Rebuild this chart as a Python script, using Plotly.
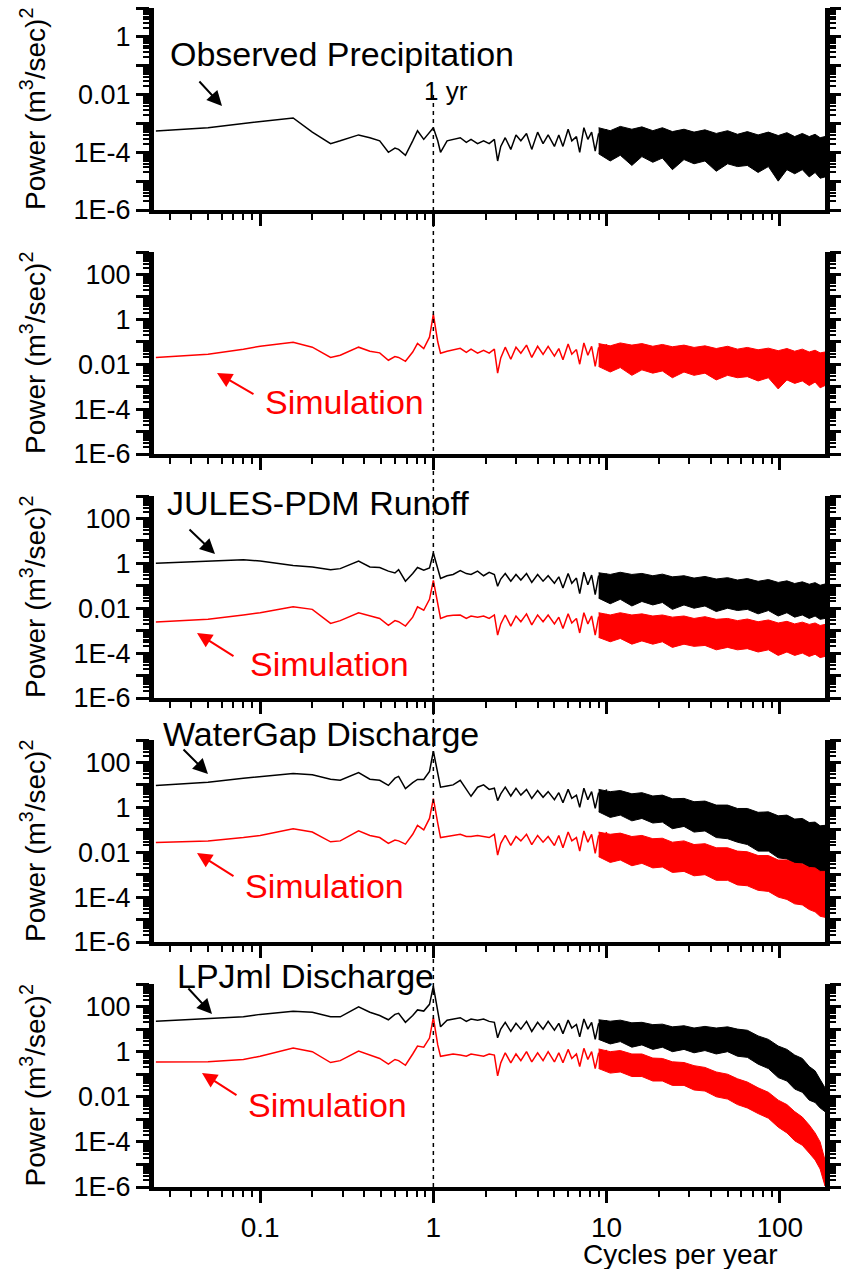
import plotly.graph_objects as go

# ---------------- data ----------------
# smooth / low-frequency part of every spectrum (drawn as a line)
FREQ_LINE = [0.025, 0.05, 0.08, 0.1, 0.155, 0.2, 0.255, 0.29, 0.37, 0.43,
             0.49, 0.55, 0.6, 0.63, 0.69, 0.76, 0.81, 0.88, 0.95, 1.0,
             1.06, 1.1, 1.2, 1.3, 1.43, 1.55, 1.65, 1.8, 1.95, 2.1,
             2.25, 2.35, 2.45, 2.6, 2.8, 3.0, 3.2, 3.45, 3.7, 4.0,
             4.3, 4.6, 5.0, 5.3, 5.6, 6.0, 6.3, 6.7, 7.0, 7.4,
             7.8, 8.2, 8.6, 9.0, 9.5, 10.0]
# dense high-frequency part (drawn as a filled band between upper / lower envelopes)
FREQ_BAND = [9, 10.5, 12, 14, 16, 18.5, 21, 24, 28, 32,
             37, 43, 50, 57, 65, 75, 86, 98, 110, 122,
             135, 148, 160, 171, 182.5]

obs_precip = [5.5e-4, 7.1e-4, 1.0e-3, 1.17e-3, 1.55e-3, 5.0e-4, 2.0e-4, 2.5e-4, 4.0e-4, 3.2e-4,
              2.5e-4, 1.0e-4, 1.4e-4, 1.26e-4, 7.9e-5, 2.5e-4, 5.6e-4, 2.8e-4, 5.0e-4, 7.1e-4,
              2.5e-4, 1.0e-4, 2.5e-4, 2.8e-4, 3.2e-4, 2.2e-4, 2.8e-4, 2.0e-4, 2.5e-4, 2.0e-4,
              2.8e-4, 5.0e-5, 1.6e-4, 3.2e-4, 1.26e-4, 4.0e-4, 2.5e-4, 4.5e-4, 1.26e-4, 5.0e-4,
              2.0e-4, 4.0e-4, 1.6e-4, 4.0e-4, 1.6e-4, 6.3e-4, 2.5e-4, 3.5e-4, 1.0e-4, 7.1e-4,
              2.8e-4, 5.0e-4, 1.1e-4, 4.5e-4, 2.0e-4, 6.3e-4]
obs_precip_hi = [7.1e-4, 5.6e-4, 7.9e-4, 6.3e-4, 7.6e-4, 5.6e-4, 7.1e-4, 5.2e-4, 6.3e-4, 5.0e-4,
                 6.0e-4, 4.5e-4, 5.6e-4, 4.2e-4, 5.2e-4, 4.0e-4, 5.0e-4, 3.8e-4, 4.8e-4, 3.5e-4,
                 4.5e-4, 3.5e-4, 4.2e-4, 3.2e-4, 3.5e-4]
obs_precip_lo = [8.9e-5, 5.0e-5, 7.9e-5, 3.5e-5, 7.1e-5, 4.5e-5, 6.3e-5, 2.5e-5, 5.6e-5, 4.0e-5,
                 5.0e-5, 2.2e-5, 4.0e-5, 3.2e-5, 3.5e-5, 2.0e-5, 3.2e-5, 1.0e-5, 2.5e-5, 1.8e-5,
                 2.5e-5, 1.4e-5, 2.0e-5, 1.26e-5, 1.4e-5]

sim_precip = [2.0e-2, 2.75e-2, 4.7e-2, 6.3e-2, 9.5e-2, 5.75e-2, 2.0e-2, 2.5e-2, 5.75e-2, 3.8e-2,
              3.2e-2, 1.5e-2, 2.2e-2, 2.0e-2, 1.35e-2, 3.5e-2, 8.5e-2, 5.0e-2, 0.16, 1.66,
              0.1, 3.1e-2, 3.8e-2, 4.2e-2, 5.1e-2, 3.4e-2, 4.7e-2, 3.1e-2, 4.2e-2, 3.1e-2,
              4.7e-2, 4.0e-3, 1.9e-2, 5.75e-2, 1.66e-2, 5.75e-2, 3.1e-2, 7.1e-2, 2.0e-2, 6.3e-2,
              2.75e-2, 6.3e-2, 2.3e-2, 5.0e-2, 1.6e-2, 7.9e-2, 2.8e-2, 4.5e-2, 1.0e-2, 8.9e-2,
              2.5e-2, 6.3e-2, 8.0e-3, 5.6e-2, 1.8e-2, 7.9e-2]
sim_precip_hi = [8.3e-2, 6.6e-2, 8.9e-2, 7.1e-2, 8.3e-2, 6.3e-2, 7.6e-2, 6.0e-2, 7.1e-2, 5.6e-2,
                 6.6e-2, 5.0e-2, 6.3e-2, 4.7e-2, 5.6e-2, 4.4e-2, 5.2e-2, 4.0e-2, 5.0e-2, 3.8e-2,
                 4.7e-2, 3.5e-2, 4.2e-2, 3.2e-2, 3.5e-2]
sim_precip_lo = [7.9e-3, 4.5e-3, 7.1e-3, 3.2e-3, 5.6e-3, 4.0e-3, 5.0e-3, 2.5e-3, 4.5e-3, 3.2e-3,
                 4.0e-3, 2.0e-3, 3.2e-3, 2.5e-3, 2.8e-3, 1.8e-3, 2.5e-3, 7.9e-4, 2.0e-3, 1.4e-3,
                 1.8e-3, 1.12e-3, 1.6e-3, 8.9e-4, 1.12e-3]

jules_runoff = [1.02, 1.23, 1.45, 1.26, 0.81, 0.68, 0.52, 0.58, 1.26, 0.69,
                0.65, 0.45, 0.37, 0.52, 0.16, 0.35, 0.65, 0.49, 0.63, 2.9,
                0.63, 0.21, 0.28, 0.32, 0.47, 0.35, 0.32, 0.45, 0.28, 0.4,
                0.32, 9.5e-2, 0.2, 0.35, 0.16, 0.32, 0.18, 0.35, 0.14, 0.32,
                0.16, 0.28, 0.13, 0.25, 7.9e-2, 0.355, 0.13, 0.22, 4.5e-2, 0.4,
                0.11, 0.3, 4.0e-2, 0.28, 8.9e-2, 0.355]
jules_runoff_hi = [0.38, 0.32, 0.4, 0.32, 0.355, 0.28, 0.33, 0.25, 0.28, 0.22,
                   0.26, 0.2, 0.23, 0.18, 0.21, 0.158, 0.19, 0.141, 0.166, 0.126,
                   0.15, 0.117, 0.138, 0.105, 0.12]
jules_runoff_lo = [2.8e-2, 1.58e-2, 2.5e-2, 1.26e-2, 2.0e-2, 1.4e-2, 1.8e-2, 8.9e-3, 1.4e-2, 1.0e-2,
                   1.26e-2, 7.1e-3, 1.0e-2, 7.9e-3, 8.9e-3, 5.6e-3, 7.9e-3, 4.5e-3, 6.3e-3, 4.0e-3,
                   5.0e-3, 3.5e-3, 4.5e-3, 3.2e-3, 3.5e-3]

jules_sim = [2.45e-3, 3.2e-3, 5.0e-3, 6.3e-3, 1.15e-2, 8.9e-3, 2.1e-3, 2.8e-3, 6.2e-3, 4.5e-3,
             3.5e-3, 1.74e-3, 2.8e-3, 2.5e-3, 1.6e-3, 4.0e-3, 1.15e-2, 8.1e-3, 2.5e-2, 0.174,
             1.6e-2, 3.5e-3, 4.5e-3, 4.9e-3, 5.0e-3, 3.5e-3, 4.5e-3, 4.0e-3, 4.5e-3, 3.5e-3,
             5.0e-3, 6.3e-4, 2.0e-3, 5.0e-3, 1.6e-3, 4.5e-3, 2.5e-3, 5.6e-3, 1.8e-3, 5.0e-3,
             2.5e-3, 5.0e-3, 2.0e-3, 4.0e-3, 1.26e-3, 5.6e-3, 2.2e-3, 3.5e-3, 7.9e-4, 6.3e-3,
             2.0e-3, 4.5e-3, 6.3e-4, 4.2e-3, 1.4e-3, 5.6e-3]
jules_sim_hi = [6.3e-3, 5.0e-3, 6.3e-3, 5.0e-3, 5.6e-3, 4.5e-3, 5.0e-3, 4.0e-3, 4.5e-3, 3.5e-3,
                4.2e-3, 3.2e-3, 3.5e-3, 2.8e-3, 3.3e-3, 2.5e-3, 3.0e-3, 2.2e-3, 2.6e-3, 2.0e-3,
                2.4e-3, 1.9e-3, 2.2e-3, 1.7e-3, 1.9e-3]
jules_sim_lo = [5.0e-4, 3.2e-4, 4.5e-4, 2.5e-4, 3.5e-4, 2.5e-4, 3.2e-4, 1.8e-4, 2.5e-4, 2.0e-4,
                2.2e-4, 1.4e-4, 1.8e-4, 1.4e-4, 1.58e-4, 1.12e-4, 1.4e-4, 7.9e-5, 1.12e-4, 7.9e-5,
                1.0e-4, 7.1e-5, 8.9e-5, 6.3e-5, 7.1e-5]

watergap_q = [9.5, 13.2, 20, 24, 32, 28, 18, 16, 35, 18,
              16, 9.5, 20, 24, 6.8, 12.6, 17.4, 17.4, 40, 316,
              32, 7.9, 8.9, 10, 16, 6.3, 3.1, 7.9, 10, 6.3,
              7.1, 2.0, 4.0, 7.9, 3.2, 7.1, 3.5, 6.3, 2.5, 5.6,
              2.8, 5.0, 2.2, 4.5, 1.6, 6.3, 2.5, 3.5, 1.0, 7.1,
              2.2, 5.0, 0.9, 4.5, 1.6, 6.3]
watergap_q_hi = [6.3, 5.0, 5.6, 4.0, 4.5, 3.2, 3.5, 2.4, 2.5, 1.78,
                 1.9, 1.26, 1.26, 0.89, 0.89, 0.6, 0.63, 0.42, 0.45, 0.3,
                 0.32, 0.21, 0.22, 0.15, 0.158]
watergap_q_lo = [0.63, 0.355, 0.45, 0.25, 0.32, 0.2, 0.22, 0.112, 0.141, 7.9e-2,
                 8.9e-2, 4.5e-2, 4.0e-2, 2.8e-2, 2.2e-2, 1.12e-2, 1.12e-2, 5.6e-3, 5.0e-3, 3.2e-3,
                 3.2e-3, 2.0e-3, 2.0e-3, 1.26e-3, 1.4e-3]

watergap_sim = [2.7e-2, 3.2e-2, 4.5e-2, 5.6e-2, 0.112, 7.9e-2, 2.9e-2, 3.2e-2, 8.9e-2, 5.6e-2,
                4.5e-2, 2.45e-2, 3.5e-2, 3.2e-2, 2.3e-2, 6.3e-2, 0.158, 0.1, 0.32, 2.45,
                0.2, 4.5e-2, 5.0e-2, 5.6e-2, 6.3e-2, 5.0e-2, 5.0e-2, 5.6e-2, 5.0e-2, 4.5e-2,
                6.3e-2, 7.4e-3, 2.5e-2, 5.6e-2, 2.0e-2, 5.0e-2, 3.2e-2, 6.3e-2, 2.2e-2, 5.6e-2,
                2.8e-2, 5.0e-2, 2.0e-2, 5.6e-2, 1.6e-2, 7.9e-2, 3.2e-2, 4.5e-2, 1.12e-2, 8.9e-2,
                2.8e-2, 6.3e-2, 8.9e-3, 5.6e-2, 2.0e-2, 7.9e-2]
watergap_sim_hi = [7.9e-2, 6.3e-2, 7.1e-2, 5.0e-2, 5.6e-2, 4.0e-2, 4.2e-2, 2.8e-2, 3.2e-2, 2.2e-2,
                   2.4e-2, 1.58e-2, 1.58e-2, 1.12e-2, 1.05e-2, 7.1e-3, 7.1e-3, 4.5e-3, 4.5e-3, 3.2e-3,
                   3.0e-3, 2.1e-3, 2.0e-3, 1.4e-3, 1.4e-3]
watergap_sim_lo = [6.3e-3, 3.5e-3, 4.5e-3, 2.5e-3, 3.2e-3, 2.0e-3, 2.2e-3, 1.26e-3, 1.4e-3, 8.9e-4,
                   1.0e-3, 5.6e-4, 5.6e-4, 3.5e-4, 3.2e-4, 2.0e-4, 1.8e-4, 1.0e-4, 7.9e-5, 5.0e-5,
                   4.5e-5, 2.8e-5, 2.2e-5, 1.4e-5, 1.26e-5]

lpjml_q = [22.4, 28, 35, 45, 62, 56, 35, 35, 98, 56,
           40, 26, 45, 50, 20, 40, 71, 63, 126, 794,
           79, 12.6, 25, 28, 32, 22, 28, 25, 28, 22,
           20, 4.1, 10, 20, 7.9, 18, 10, 22, 7.9, 20,
           10, 22, 8.9, 18, 6.3, 25, 11, 16, 4.5, 28,
           10, 20, 3.5, 18, 7.1, 25]
lpjml_q_hi = [26, 22.4, 25, 19, 20, 15.8, 16.6, 12.6, 14.1, 11.2,
              13.2, 11.2, 12.6, 10, 8.9, 5.0, 3.5, 1.78, 1.26, 0.71,
              0.5, 0.22, 0.141, 6.3e-2, 2.5e-2]
lpjml_q_lo = [3.5, 2.2, 2.8, 1.58, 2.0, 1.26, 1.58, 1.0, 1.26, 0.89,
              1.12, 0.79, 1.0, 0.63, 0.56, 0.28, 0.178, 7.1e-2, 5.0e-2, 2.2e-2,
              1.58e-2, 7.1e-3, 5.6e-3, 3.2e-3, 2.2e-3]

lpjml_sim = [0.35, 0.355, 0.45, 0.63, 1.45, 1.0, 0.33, 0.4, 1.07, 0.71,
             0.5, 0.28, 0.45, 0.4, 0.25, 0.79, 1.78, 1.58, 4.0, 32,
             2.0, 0.62, 0.71, 0.79, 0.71, 0.63, 0.79, 0.71, 0.63, 0.79,
             0.71, 8.5e-2, 0.32, 0.89, 0.32, 0.79, 0.4, 1.0, 0.35, 0.89,
             0.4, 1.0, 0.35, 0.89, 0.32, 1.26, 0.5, 0.79, 0.22, 1.41,
             0.45, 1.0, 0.178, 0.89, 0.32, 1.2]
lpjml_sim_hi = [1.32, 1.0, 1.12, 0.79, 0.79, 0.52, 0.5, 0.355, 0.33, 0.24,
                0.2, 0.126, 0.1, 6.3e-2, 4.5e-2, 2.5e-2, 1.58e-2, 7.1e-3, 4.5e-3, 2.2e-3,
                1.26e-3, 5.6e-4, 2.5e-4, 1.0e-4, 1.58e-5]
lpjml_sim_lo = [0.178, 0.112, 0.126, 7.9e-2, 7.9e-2, 5.0e-2, 5.0e-2, 3.2e-2, 3.2e-2, 2.0e-2,
                1.8e-2, 1.0e-2, 7.9e-3, 4.5e-3, 3.2e-3, 1.8e-3, 1.12e-3, 4.5e-4, 2.5e-4, 1.12e-4,
                7.1e-5, 3.2e-5, 1.58e-5, 6.3e-6, 1.12e-6]

X_TICKVALS = [0.1, 1, 10, 100]
X_TICKTEXT = ["0.1", "1", "10", "100"]
X_MINOR = [0.03, 0.04, 0.05, 0.06, 0.07, 0.08, 0.09,
           0.2, 0.3, 0.4, 0.5, 0.6, 0.7, 0.8, 0.9,
           2, 3, 4, 5, 6, 7, 8, 9,
           20, 30, 40, 50, 60, 70, 80, 90]
Y_TICKVALS = [1e-6, 1e-5, 1e-4, 1e-3, 1e-2, 1e-1, 1, 10, 100, 1000]
Y_TICKTEXT = ["1E-6", "", "1E-4", "", "0.01", "", "1", "", "100", ""]
Y_MINOR = [m * d for d in Y_TICKVALS[:-1] for m in range(2, 10)]

# ---------------- layout geometry ----------------
W, H = 841, 1269
ML, MR, MT, MB = 154, 16, 8, 82
PW = W - ML - MR
PH = H - MT - MB
PANEL_PX = [(8, 210), (252, 454), (496, 698), (740, 942), (984, 1187)]
FONT = "Arial, 'Liberation Sans', Helvetica, sans-serif"
RED = "#ff0000"
BLACK = "#000000"


def xp(p):
    return (p - ML) / PW


def yp(p):
    return (H - MB - p) / PH


panels = [
    [(obs_precip, obs_precip_hi, obs_precip_lo, BLACK)],
    [(sim_precip, sim_precip_hi, sim_precip_lo, RED)],
    [(jules_runoff, jules_runoff_hi, jules_runoff_lo, BLACK),
     (jules_sim, jules_sim_hi, jules_sim_lo, RED)],
    [(watergap_q, watergap_q_hi, watergap_q_lo, BLACK),
     (watergap_sim, watergap_sim_hi, watergap_sim_lo, RED)],
    [(lpjml_q, lpjml_q_hi, lpjml_q_lo, BLACK),
     (lpjml_sim, lpjml_sim_hi, lpjml_sim_lo, RED)],
]

fig = go.Figure()
for i, series in enumerate(panels):
    sfx = "" if i == 0 else str(i + 1)
    for vals, hi, lo, col in series:
        fig.add_trace(go.Scatter(
            x=FREQ_LINE, y=vals, mode="lines",
            line=dict(color=col, width=1.5),
            xaxis="x" + sfx, yaxis="y" + sfx,
            showlegend=False, hoverinfo="skip"))
        fig.add_trace(go.Scatter(
            x=FREQ_BAND + FREQ_BAND[::-1], y=hi + lo[::-1], mode="lines",
            fill="toself", fillcolor=col,
            line=dict(color=col, width=1),
            xaxis="x" + sfx, yaxis="y" + sfx,
            showlegend=False, hoverinfo="skip"))

layout = dict(
    width=W, height=H,
    margin=dict(l=ML, r=MR, t=MT, b=MB, pad=0),
    paper_bgcolor="white", plot_bgcolor="white",
    font=dict(family=FONT, color="black"),
    showlegend=False,
)

for i, (top, bot) in enumerate(PANEL_PX):
    sfx = "" if i == 0 else str(i + 1)
    ntick = 8 if i == 0 else 10
    layout["xaxis" + sfx] = dict(
        type="log", range=[-1.613, 2.2613], domain=[0, 1], anchor="y" + sfx,
        automargin=False,
        showline=True, linewidth=4, linecolor="black", mirror=False,
        ticks="outside", ticklen=12, tickwidth=2.5, tickcolor="black",
        tickmode="array", tickvals=X_TICKVALS, ticktext=X_TICKTEXT,
        showticklabels=(i == 4), showgrid=False, zeroline=False,
        tickfont=dict(size=28, family=FONT, color="black"),
        minor=dict(ticks="outside", ticklen=6, tickwidth=2, tickcolor="black",
                   tickmode="array", tickvals=X_MINOR, showgrid=False),
    )
    layout["yaxis" + sfx] = dict(
        type="log", range=[-6, 1 if i == 0 else 3],
        domain=[yp(bot), yp(top)], anchor="x" + sfx,
        automargin=False,
        showline=True, linewidth=5, linecolor="black", mirror="ticks",
        ticks="outside", ticklen=13, tickwidth=2.5, tickcolor="black",
        tickmode="array", tickvals=Y_TICKVALS[:ntick], ticktext=Y_TICKTEXT[:ntick],
        showgrid=False, zeroline=False,
        tickfont=dict(size=27, family=FONT, color="black"),
        minor=dict(ticks="outside", ticklen=6, tickwidth=1.5, tickcolor="black",
                   tickmode="array",
                   tickvals=[v for v in Y_MINOR if v < Y_TICKVALS[ntick - 1]],
                   showgrid=False),
    )

annotations = []


def text(t, x, y, size, color=BLACK, anchor="left", angle=0):
    annotations.append(dict(
        text=t, x=xp(x), y=yp(y), xref="paper", yref="paper",
        xanchor=anchor, yanchor="middle", showarrow=False, textangle=angle,
        font=dict(size=size, color=color, family=FONT)))


def arrow(hx, hy, tx, ty, color):
    annotations.append(dict(
        text="", x=xp(hx), y=yp(hy), xref="paper", yref="paper",
        ax=tx - hx, ay=ty - hy, axref="pixel", ayref="pixel",
        showarrow=True, arrowhead=2, arrowsize=1.5, arrowwidth=2,
        arrowcolor=color, standoff=0, startstandoff=0))


text("Observed Precipitation", 168, 54, 34)
text("1 yr", 446, 91, 26, anchor="center")
text("Simulation", 263, 402, 34, RED)
text("JULES-PDM Runoff", 165, 503, 34)
text("Simulation", 248, 664, 34, RED)
text("WaterGap Discharge", 161, 734, 34)
text("Simulation", 243, 886, 34, RED)
text("LPJml Discharge", 175, 976, 34)
text("Simulation", 246, 1105, 34, RED)
text("Cycles per year", 680, 1254, 28, anchor="center")

arrow(222, 106, 198, 80, BLACK)
arrow(217, 373, 255, 395, RED)
arrow(215, 554, 188, 528, BLACK)
arrow(197, 633, 235, 657, RED)
arrow(208, 774, 182, 748, BLACK)
arrow(197, 853, 235, 877, RED)
arrow(212, 1014, 187, 987, BLACK)
arrow(202, 1073, 238, 1096, RED)

for top, bot in PANEL_PX:
    text("Power (m<sup>3</sup>/sec)<sup>2</sup>", 33, (top + bot) / 2, 28,
         anchor="center", angle=-90)

layout["annotations"] = annotations
layout["shapes"] = [dict(
    type="line", xref="x", yref="paper", x0=1, x1=1, y0=0, y1=yp(92),
    line=dict(color="black", width=1.5, dash="4px,4px"), layer="above")]

fig.update_layout(**layout)
fig.write_html("out.html")
